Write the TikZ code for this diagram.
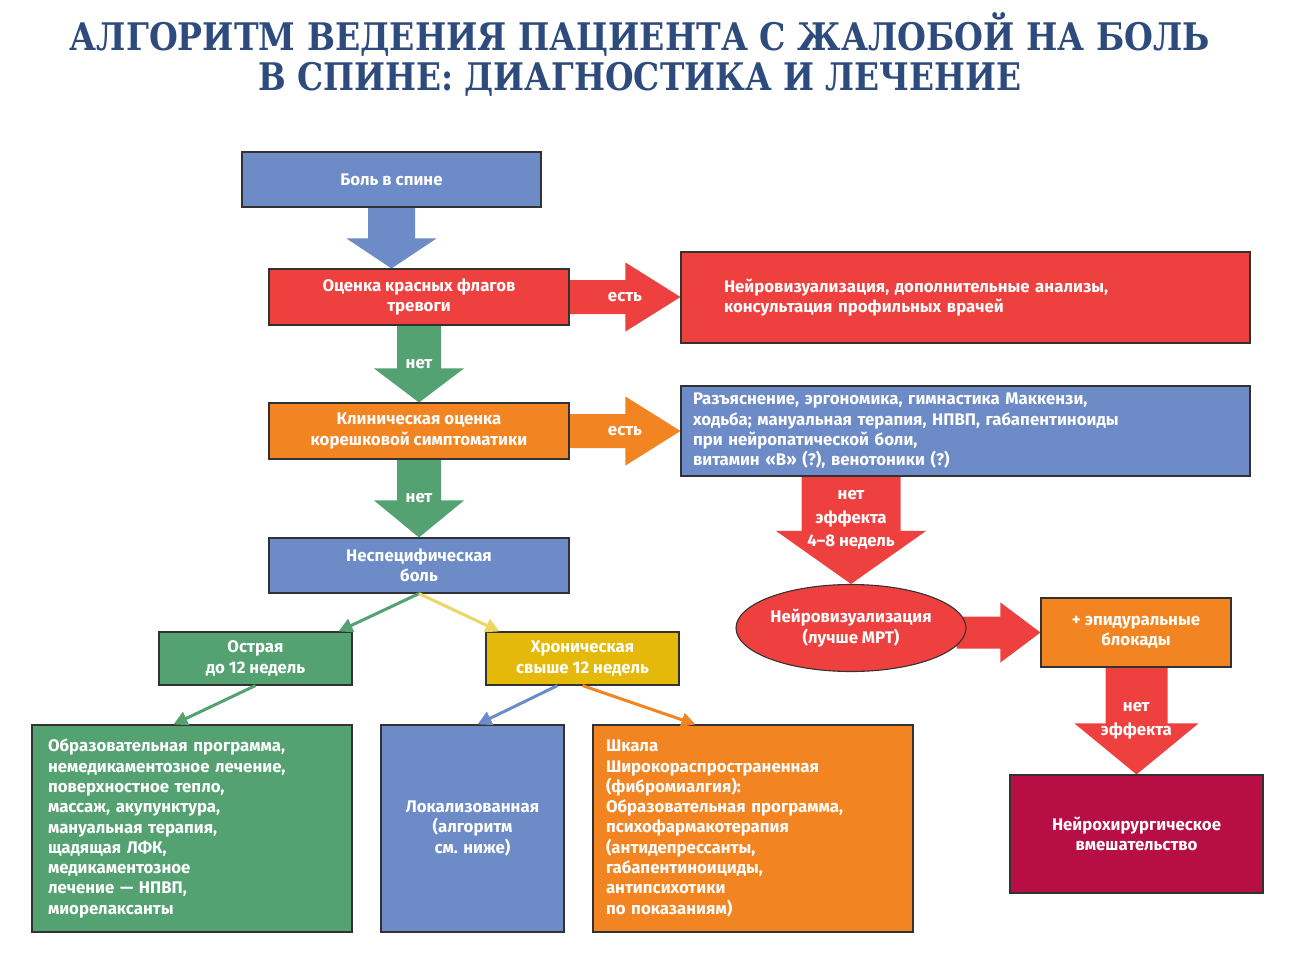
\documentclass[tikz,border=0pt]{standalone}
\usepackage{fontspec}
\setmainfont{Fira Sans}
\newfontfamily\titlefont{DejaVu Serif}
\usepackage{graphicx}
\usetikzlibrary{calc,shapes.geometric,arrows.meta}
\definecolor{blueF}{RGB}{109,139,198}
\definecolor{redF}{RGB}{238,65,63}
\definecolor{orangeF}{RGB}{243,132,34}
\definecolor{greenF}{RGB}{84,161,114}
\definecolor{yellowF}{RGB}{229,185,10}
\definecolor{yellowL}{RGB}{236,214,100}
\definecolor{crimsonF}{RGB}{183,14,69}
\definecolor{titleC}{RGB}{45,75,125}
\definecolor{edgeC}{RGB}{50,50,50}
\pgfdeclarelayer{back}
\pgfdeclarelayer{bg}
\pgfsetlayers{back,bg,main}
% from, to, xref, half shaft, half head, head length, colour
\newcommand\blockdown[7]{%
\begin{pgfonlayer}{bg}
\fill[#7] let \p1=(#1.south), \p2=(#2.north), \p3=(#3) in
 (\x3-#4,\y1+6pt) -- (\x3-#4,\y2+#6) -- (\x3-#5,\y2+#6) -- (\x3,\y2)
 -- (\x3+#5,\y2+#6) -- (\x3+#4,\y2+#6) -- (\x3+#4,\y1+6pt) -- cycle;
\end{pgfonlayer}}
% from, to, yref, half shaft, half head, head length, colour
\newcommand\blockright[7]{%
\begin{pgfonlayer}{bg}
\fill[#7] let \p1=(#1.east), \p2=(#2.west), \p3=(#3) in
 (\x1-10pt,\y3+#4) -- (\x2-#6,\y3+#4) -- (\x2-#6,\y3+#5) -- (\x2,\y3)
 -- (\x2-#6,\y3-#5) -- (\x2-#6,\y3-#4) -- (\x1-10pt,\y3-#4) -- cycle;
\end{pgfonlayer}}
\tikzset{
  box/.style={draw=edgeC, line width=1.1pt, inner sep=0pt, text=white,
    font=\bfseries\fontsize{16.8}{20.3}\selectfont, align=center},
  lbl/.style={text=white, font=\bfseries\fontsize{16.8}{23.5}\selectfont, align=center, inner sep=0pt},
  thinarrow/.style={line width=3pt, -{Triangle[length=14pt,width=14pt]}},
}
\begin{document}
\begin{tikzpicture}[x=1pt,y=-1pt]
\useasboundingbox (0,0) rectangle (1290,955);
\begin{pgfonlayer}{back}
\fill[white] (0,0) rectangle (1290,955);
\end{pgfonlayer}

% title
\node[anchor=base, text=titleC, inner sep=0pt] (t1) at (640,51)
  {\resizebox{1140pt}{\height}{\titlefont\bfseries\fontsize{38}{38}\selectfont АЛГОРИТМ ВЕДЕНИЯ ПАЦИЕНТА С ЖАЛОБОЙ НА БОЛЬ}};
\node[anchor=base, text=titleC, inner sep=0pt] (t2) at (640,91)
  {\resizebox{764pt}{\height}{\titlefont\bfseries\fontsize{38}{38}\selectfont В СПИНЕ: ДИАГНОСТИКА И ЛЕЧЕНИЕ}};

% boxes
\node[box, fill=blueF, minimum width=299pt, minimum height=55pt] (b1) at (391.5,179.5) {Боль в спине};
\node[box, fill=redF, minimum width=300pt, minimum height=56pt] (b2) at (419,297) {Оценка красных флагов\\тревоги};
\node[box, fill=redF, minimum width=569pt, minimum height=91pt, text width=483pt, inner xsep=43pt, align=left] (b3) at (965.5,297.5)
  {Нейровизуализация, дополнительные анализы,\\консультация профильных врачей};
\node[box, fill=orangeF, minimum width=300pt, minimum height=56pt] (b4) at (419,431) {Клиническая оценка\\корешковой симптоматики};
\node[box, fill=blueF, minimum width=569pt, minimum height=90pt, text width=545pt, inner xsep=12pt, align=left] (b5) at (965.5,431)
  {Разъяснение, эргономика, гимнастика Маккензи,\\ходьба; мануальная терапия, НПВП, габапентиноиды\\при нейропатической боли,\\витамин «В» (?), венотоники (?)};
\node[box, fill=blueF, minimum width=300pt, minimum height=55pt] (b6) at (419,565.5) {Неспецифическая\\боль};
\node[box, fill=greenF, minimum width=193pt, minimum height=53pt] (b7) at (255.5,658.5) {Острая\\до 12 недель};
\node[box, fill=yellowF, minimum width=193pt, minimum height=53pt] (b8) at (582.5,658.5) {Хроническая\\свыше 12 недель};
\node[box, fill=greenF, minimum width=320pt, minimum height=207pt, text width=288pt, inner xsep=16pt, align=left] (b9) at (192,828.5)
  {Образовательная программа,\\немедикаментозное лечение,\\поверхностное тепло,\\массаж, акупунктура,\\мануальная терапия,\\щадящая ЛФК,\\медикаментозное\\лечение — НПВП,\\миорелаксанты};
\node[box, fill=blueF, minimum width=183pt, minimum height=207pt] (b10) at (472.5,828.5) {Локализованная\\(алгоритм\\см. ниже)};
\node[box, fill=orangeF, minimum width=320pt, minimum height=207pt, text width=294pt, inner xsep=13pt, align=left] (b11) at (753,828.5)
  {Шкала\\Широкораспространенная\\(фибромиалгия):\\Образовательная программа,\\психофармакотерапия\\(антидепрессанты,\\габапентиноициды,\\антипсихотики\\по показаниям)};
\node[box, ellipse, fill=redF, minimum width=230pt, minimum height=87pt] (e1) at (851,628) {Нейровизуализация\\(лучше МРТ)};
\node[box, fill=orangeF, minimum width=190pt, minimum height=69pt] (b12) at (1136,632.5) {+ эпидуральные\\блокады};
\node[box, fill=crimsonF, minimum width=253pt, minimum height=118pt] (b13) at (1136.5,834) {Нейрохирургическое\\вмешательство};

% block arrows
\blockdown{b1}{b2}{b1}{23.5pt}{45pt}{30pt}{blueF}
\blockdown{b2}{b4}{b4}{22pt}{45pt}{34pt}{greenF}
\blockdown{b4}{b6}{b6}{22pt}{45pt}{37pt}{greenF}
\blockdown{b5}{e1}{e1}{49.5pt}{75pt}{53pt}{redF}
\blockdown{b12}{b13}{b13}{31pt}{62pt}{51pt}{redF}
\blockright{b2}{b3}{b2}{17pt}{34.5pt}{55pt}{redF}
\blockright{b4}{b5}{b4}{17pt}{34.5pt}{55pt}{orangeF}
\blockright{e1}{b12}{b12}{16pt}{30pt}{40pt}{redF}

% arrow labels
\node[lbl] (l1) at ($(b2.south)!0.5!(b4.north)$) {нет};
\node[lbl] (l2) at ($(b4.south)!0.5!(b6.north)$) {нет};
\node[lbl] (l3) at ($(b2.east)!0.5!(b3.west)$) {есть};
\node[lbl] (l4) at ($(b4.east)!0.5!(b5.west)$) {есть};
\node[lbl] (l5) at ($(e1.north)+(0,-64)$) {нет\\эффекта\\4–8 недель};
\node[lbl] (l6) at ($(b12.south)!0.5!(b13.north)$) {нет\\эффекта};

% thin arrows
\draw[thinarrow, greenF] (b6.south) -- ($(b7.north east)+(-14,0)$);
\draw[thinarrow, yellowL] (b6.south) -- ($(b8.north west)+(14,0)$);
\draw[thinarrow, greenF] (b7.south) -- ($(b9.north west)+(142,0)$);
\draw[thinarrow, blueF] ($(b8.south)+(-25,0)$) -- ($(b10.north)+(5,0)$);
\draw[thinarrow, orangeF] (b8.south) -- ($(b11.north west)+(103,0)$);
\end{tikzpicture}
\end{document}
